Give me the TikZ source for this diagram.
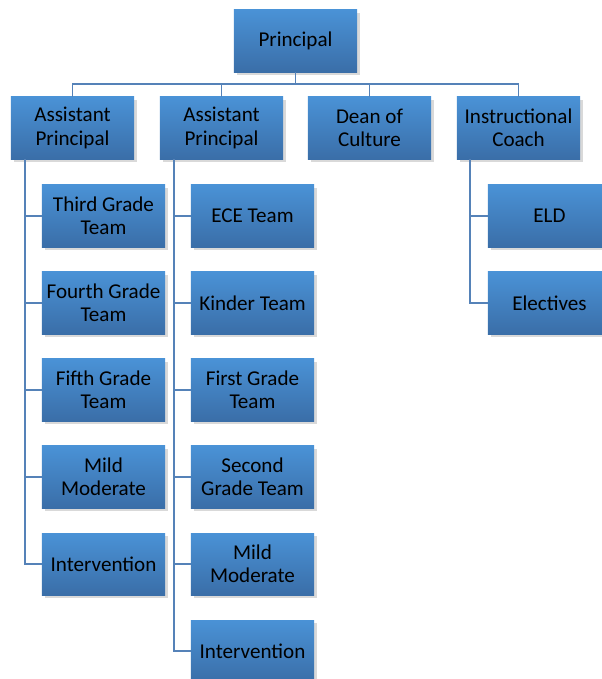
\documentclass[tikz,border=0pt]{standalone}
\usepackage{fontspec}
\setmainfont{Carlito}
\usetikzlibrary{shadows}

\definecolor{boxtop}{HTML}{4A92D6}
\definecolor{boxbot}{HTML}{3A6EA8}
\definecolor{linkblue}{HTML}{5582B8}

\tikzset{
  unit/.style={rectangle, top color=boxtop, bottom color=boxbot,
    minimum width=3.075cm, minimum height=1.55cm, inner sep=0pt,
    align=center, text=black, font=\fontsize{15}{16.5}\selectfont,
    drop shadow={opacity=0.3, shadow xshift=2pt, shadow yshift=-2pt}},
  link/.style={draw=linkblue, line width=1.4pt}
}

\begin{document}
\begin{tikzpicture}[x=0.025cm, y=-0.025cm]

  \useasboundingbox (0,0) rectangle (602,679);

  % -- Top level --
  \node[unit] (principal) at (295.5,41) {Principal};

  % -- Second level --
  \node[unit] (ap1) at (72.5,128) {Assistant\\Principal};
  \node[unit] (ap2) at (221.5,128) {Assistant\\Principal};
  \node[unit] (dean) at (369.5,128) {Dean of\\Culture};
  \node[unit] (coach) at (518.5,128) {Instructional\\Coach};

  % -- Teams under first assistant principal --
  \node[unit] (third) at (103.5,216) {Third Grade\\Team};
  \node[unit] (fourth) at (103.5,303) {Fourth Grade\\Team};
  \node[unit] (fifth) at (103.5,390) {Fifth Grade\\Team};
  \node[unit] (mildA) at (103.5,477) {Mild\\Moderate};
  \node[unit] (interA) at (103.5,564) {Intervention};

  % -- Teams under second assistant principal --
  \node[unit] (ece) at (252.5,216) {ECE Team};
  \node[unit] (kinder) at (252.5,303) {Kinder Team};
  \node[unit] (first) at (252.5,390) {First Grade\\Team};
  \node[unit] (second) at (252.5,477) {Second\\Grade Team};
  \node[unit] (mildB) at (252.5,564) {Mild\\Moderate};
  \node[unit] (interB) at (252.5,651) {Intervention};

  % -- Under instructional coach --
  \node[unit] (eld) at (549.5,216) {ELD};
  \node[unit] (elect) at (549.5,303) {Electives};

  % -- Bus from principal --
  \coordinate (bus) at (295.5,84);
  \draw[link] (principal.south) -- (bus);
  \foreach \n in {ap1, ap2, dean, coach}
    \draw[link] (\n.north) |- (bus);

  % -- Spines --
  \coordinate (spineA) at (25,0);
  \coordinate (spineB) at (174,0);
  \coordinate (spineC) at (470,0);
  \foreach \n in {third, fourth, fifth, mildA, interA}
    \draw[link] (ap1.south -| spineA) |- (\n.west);
  \foreach \n in {ece, kinder, first, second, mildB, interB}
    \draw[link] (ap2.south -| spineB) |- (\n.west);
  \foreach \n in {eld, elect}
    \draw[link] (coach.south -| spineC) |- (\n.west);

\end{tikzpicture}
\end{document}
